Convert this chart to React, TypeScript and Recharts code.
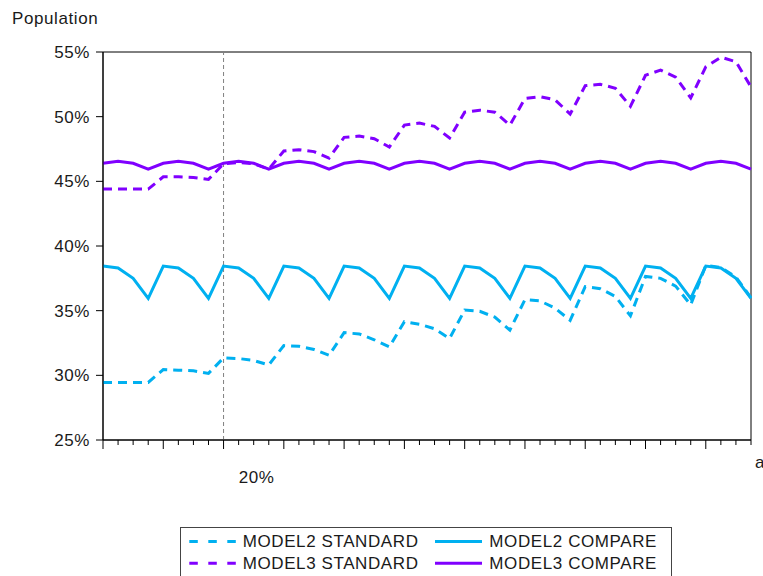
import { LineChart, Line, XAxis, YAxis, ReferenceLine, ReferenceArea } from 'recharts'

const FONT = '"Liberation Sans", Arial, sans-serif'
const BLUE = '#00b0f0'
const PURPLE = '#8000ff'
const SPACING = 0.6

// quarterly-ish steps
const model2Standard = [
  29.45, 29.45, 29.45, 29.45, 30.45, 30.4, 30.35, 30.15, 31.35, 31.3, 31.15,
  30.8, 32.3, 32.25, 32.0, 31.55, 33.3, 33.2, 32.75, 32.2, 34.15, 33.95,
  33.6, 32.85, 35.05, 34.95, 34.5, 33.5, 35.85, 35.75, 35.2, 34.25, 36.85,
  36.7, 36.1, 34.6, 37.65, 37.5, 36.9, 35.45, 38.5, 38.35, 37.6, 36.0,
]
const model2Compare = [
  38.45, 38.3, 37.5, 35.95, 38.45, 38.3, 37.5, 35.95, 38.45, 38.3, 37.5,
  35.95, 38.45, 38.3, 37.5, 35.95, 38.45, 38.3, 37.5, 35.95, 38.45, 38.3,
  37.5, 35.95, 38.45, 38.3, 37.5, 35.95, 38.45, 38.3, 37.5, 35.95, 38.45,
  38.3, 37.5, 35.95, 38.45, 38.3, 37.5, 35.95, 38.45, 38.3, 37.5, 35.95,
]
const model3Standard = [
  44.4, 44.4, 44.4, 44.4, 45.35, 45.35, 45.3, 45.15, 46.35, 46.45, 46.35,
  45.95, 47.35, 47.45, 47.3, 46.8, 48.4, 48.5, 48.3, 47.65, 49.35, 49.5,
  49.25, 48.35, 50.35, 50.5, 50.35, 49.35, 51.4, 51.55, 51.3, 50.2, 52.4,
  52.5, 52.2, 50.8, 53.2, 53.6, 53.05, 51.45, 53.85, 54.6, 54.25, 52.3,
]
const model3Compare = [
  46.4, 46.55, 46.4, 45.95, 46.4, 46.55, 46.4, 45.95, 46.4, 46.55, 46.4,
  45.95, 46.4, 46.55, 46.4, 45.95, 46.4, 46.55, 46.4, 45.95, 46.4, 46.55,
  46.4, 45.95, 46.4, 46.55, 46.4, 45.95, 46.4, 46.55, 46.4, 45.95, 46.4,
  46.55, 46.4, 45.95, 46.4, 46.55, 46.4, 45.95, 46.4, 46.55, 46.4, 45.95,
]

const yTicks = [25, 30, 35, 40, 45, 50, 55]
const xLabels = [
  { at: 9, text: '20%' },
  { at: 43, text: 'a' },
]
const markerAt = 8

const data = model2Standard.map((v, i) => ({
  i,
  m2s: v,
  m2c: model2Compare[i],
  m3s: model3Standard[i],
  m3c: model3Compare[i],
}))
const xTicks = data.map(d => d.i)

function XTick(props: any) {
  const { x, y, payload } = props
  const major = payload.value % 4 === 0
  const lbl = xLabels.find(l => l.at === payload.value)
  const last = payload.value === xTicks[xTicks.length - 1]
  return (
    <g>
      <line x1={x} x2={x} y1={y} y2={y + (major ? 9 : 5)} stroke="#000" strokeWidth={1} />
      {lbl && (
        <text x={x + (last ? 4 : 0)} y={y + (last ? 28 : 43)} textAnchor="start"
          fontFamily={FONT} fontSize={17} letterSpacing={SPACING} fill="#1a1a1a">{lbl.text}</text>
      )}
    </g>
  )
}

function LegendBox() {
  const rows = [
    [{ name: 'MODEL2 STANDARD', color: BLUE, dash: true }, { name: 'MODEL2 COMPARE', color: BLUE, dash: false }],
    [{ name: 'MODEL3 STANDARD', color: PURPLE, dash: true }, { name: 'MODEL3 COMPARE', color: PURPLE, dash: false }],
  ]
  return (
    <svg width={492} height={60} style={{ position: 'absolute', left: 180, top: 527 }}>
      <rect x={0.5} y={0.5} width={491} height={70} fill="#fff" stroke="#444" />
      {rows.map((row, r) => (
        <g key={r} transform={`translate(0, ${14.5 + r * 21.7})`}>
          {row.map((it, c) => {
            const sx = c === 0 ? 9.3 : 255
            const tx = c === 0 ? 62.7 : 309.3
            return (
              <g key={it.name}>
                <line x1={sx} x2={sx + 47} y1={0} y2={0} stroke={it.color} strokeWidth={3}
                  strokeDasharray={it.dash ? '8.5 10.5' : undefined} />
                <text x={tx} y={0} dominantBaseline="central" fontFamily={FONT} fontSize={17}
                  letterSpacing={SPACING} fill="#1a1a1a">{it.name}</text>
              </g>
            )
          })}
        </g>
      ))}
    </svg>
  )
}

export default function App() {
  return (
    <div style={{ position: 'relative', width: 763, height: 576, overflow: 'hidden', background: '#fff' }}>
      <style>{`body{margin:0}`}</style>
      <div style={{ position: 'absolute', left: 12, top: 9, fontFamily: FONT, fontSize: 17, letterSpacing: SPACING, color: '#1a1a1a' }}>Population</div>
      <LineChart width={763} height={576} data={data} margin={{ top: 52, right: 12, left: 0, bottom: 0 }}>
        <XAxis dataKey="i" type="number" domain={[0, 43]} ticks={xTicks} interval={0}
          height={136} tickSize={0} tickMargin={0} tickLine={false}
          axisLine={{ stroke: '#000' }} tick={<XTick />} />
        <YAxis type="number" domain={[25, 55]} ticks={yTicks} width={103}
          tickSize={7} tickMargin={6} tickLine={{ stroke: '#000' }} axisLine={{ stroke: '#000' }}
          tickFormatter={(v: number) => `${v}%`}
          tick={{ fontFamily: FONT, fontSize: 17, fill: '#1a1a1a', letterSpacing: SPACING }} />
        <ReferenceArea x1={0} x2={43} y1={25} y2={55} fill="none" stroke="#000" strokeWidth={1} />
        <ReferenceLine x={markerAt} stroke="#808080" strokeDasharray="4 3" strokeWidth={1} />
        <Line dataKey="m2s" stroke={BLUE} strokeWidth={3} strokeDasharray="9 6" dot={false} isAnimationActive={false} />
        <Line dataKey="m3s" stroke={PURPLE} strokeWidth={3} strokeDasharray="9 6" dot={false} isAnimationActive={false} />
        <Line dataKey="m2c" stroke={BLUE} strokeWidth={3} dot={false} isAnimationActive={false} />
        <Line dataKey="m3c" stroke={PURPLE} strokeWidth={3} dot={false} isAnimationActive={false} />
      </LineChart>
      <LegendBox />
    </div>
  )
}
